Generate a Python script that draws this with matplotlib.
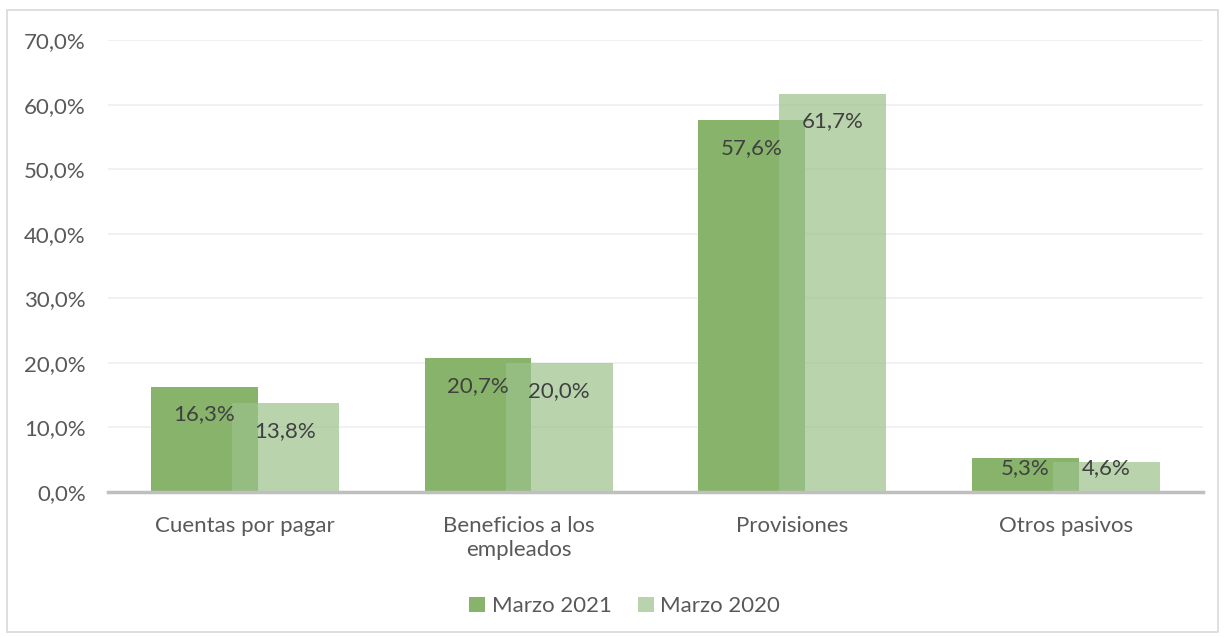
import matplotlib
matplotlib.use("Agg")
import matplotlib.pyplot as plt
from matplotlib.patches import Rectangle
import numpy as np

categories = ["Cuentas por pagar", "Beneficios a los\nempleados", "Provisiones", "Otros pasivos"]
series_names = ["Marzo 2021", "Marzo 2020"]
marzo_2021 = [16.3, 20.7, 57.6, 5.3]
marzo_2020 = [13.8, 20.0, 61.7, 4.6]
yticks = [0, 10, 20, 30, 40, 50, 60, 70]

plt.rcParams['font.family'] = ['Lato', 'DejaVu Sans']

fig = plt.figure(figsize=(12.25, 6.37), dpi=100)
fig.patches.append(Rectangle((0.006, 0.008), 0.988, 0.977, transform=fig.transFigure,
                             fill=False, edgecolor="#d9d9d9", linewidth=1.2))
ax = fig.add_axes([0.0882, 0.2276, 0.8938, 0.7094])

x = np.arange(len(categories))
w = 0.39
off = 0.148
dark = "#88b36b"
light = "#9cc28b"
b1 = ax.bar(x - off, marzo_2021, w, color=dark, label=series_names[0], zorder=2)
b2 = ax.bar(x + off, marzo_2020, w, color=light, alpha=0.7, label=series_names[1], zorder=3)

for xs, vals in ((x - off, marzo_2021), (x + off, marzo_2020)):
    for xi, v in zip(xs, vals):
        ax.text(xi, max(v - 4.3, 3.7), f"{v:.1f}".replace(".", ",") + "%",
                ha="center", va="center", fontsize=16, color="#404040", zorder=4)

ax.set_xlim(-0.5, len(categories) - 0.5)
ax.set_ylim(0, 70)
ax.set_yticks(yticks)
ax.set_yticklabels([f"{t:.1f}".replace(".", ",") + "%" for t in yticks])
ax.set_xticks(x)
ax.set_xticklabels(categories, linespacing=1.25)
ax.tick_params(axis="both", length=0, labelsize=16, labelcolor="#595959")
ax.tick_params(axis="y", pad=16)
ax.tick_params(axis="x", pad=17)
ax.grid(axis="y", color="#efefef", linewidth=1.2, zorder=0)
ax.set_axisbelow(True)
for s in ["top", "right", "left"]:
    ax.spines[s].set_visible(False)
ax.spines["bottom"].set_color("#bfbfbf")
ax.spines["bottom"].set_linewidth(2.5)
ax.spines["bottom"].set_zorder(5)

leg = fig.legend(handles=[b1, b2], loc="center", bbox_to_anchor=(0.51, 0.048), ncol=2,
                 frameon=False, fontsize=16, handlelength=0.7, handleheight=0.7,
                 handletextpad=0.3, columnspacing=1.2, labelcolor="#595959")
fig.savefig("out.png", dpi=100)
